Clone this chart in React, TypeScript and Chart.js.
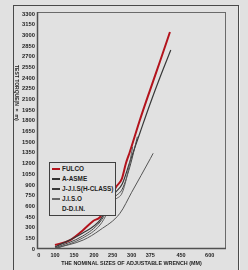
import { useEffect, useRef } from 'react';
import { Chart, registerables } from 'chart.js';

Chart.register(...registerables);

// ---- data ----
const seriesNames = ['FULCO', 'A-ASME', 'J-J.I.S(H-CLASS)', 'J.I.S.O', 'D-D.I.N.'];

const fulcoSize = [100, 140, 173, 198, 216, 260, 274, 285, 295, 333, 374, 399, 423];
const fulcoTorque = [56, 126, 267, 393, 449, 880, 985, 1207, 1362, 1811, 2232, 2640, 3047];

const asmeSize = [100, 172, 216, 256, 275, 295, 333, 374, 399, 425];
const asmeTorque = [28, 225, 407, 786, 913, 1221, 1629, 2036, 2415, 2794];

const jisSize = [100, 172, 216, 256, 275, 295, 323];
const jisTorque = [14, 183, 379, 730, 840, 1151, 1577];

const jisoSize = [100, 172, 216, 256, 275, 290, 304];
const jisoTorque = [0, 155, 337, 688, 790, 1081, 1436];

const dinSize = [100, 173, 216, 269, 300, 375, 382];
const dinTorque = [10, 126, 267, 501, 797, 1268, 1344];

const xTickValues = [0, 100, 150, 200, 250, 300, 375, 450, 600];
const xTickLabels = ['0', '100', '150', '200', '250', '300', '375', '450', '600'];
const yMin = 0;
const yMax = 3300;
const yStep = 150;

// ---- layout / style (not data) ----
// where each x tick sits along the drawn (non-uniform) axis, in axis units
const X_SPOTS = [1.7, 18, 37, 57, 75.7, 94.7, 113.3, 144, 172.7];
const X_SPAN = 189;
const FONT = "'Liberation Sans', Arial, sans-serif";
const INK = '#1e1e1e';
const BG = '#e1e1e1';

const STYLE = [
  { color: '#b3131c', width: 2, swatch: '#b3131c', swatchH: 2 },
  { color: '#383838', width: 1.2, swatch: '#333333', swatchH: 1.5 },
  { color: '#444444', width: 1, swatch: '#3a3a3a', swatchH: 1.5 },
  { color: '#5c5c5c', width: 1, swatch: '#666666', swatchH: 1.2 },
  { color: '#555555', width: 1, swatch: 'transparent', swatchH: 1 },
];

function toAxis(mm: number): number {
  for (let i = 0; i < xTickValues.length - 1; i++) {
    const a = xTickValues[i];
    const b = xTickValues[i + 1];
    if (mm <= b || i === xTickValues.length - 2) {
      const t = (mm - a) / (b - a);
      return X_SPOTS[i] + t * (X_SPOTS[i + 1] - X_SPOTS[i]);
    }
  }
  return 0;
}

const framePlugin = {
  id: 'plotFrame',
  afterDatasetsDraw(chart: any) {
    const { ctx, chartArea } = chart;
    const { left, top, right, bottom } = chartArea;
    ctx.save();
    ctx.strokeStyle = '#6a6a6a';
    ctx.lineWidth = 1;
    ctx.strokeRect(left + 0.5, top - 1.5, right - left - 1, bottom - top + 1);
    ctx.strokeStyle = '#505050';
    ctx.lineWidth = 1.5;
    ctx.beginPath();
    ctx.moveTo(left + 0.5, top - 2);
    ctx.lineTo(left + 0.5, bottom - 0.5);
    ctx.lineTo(right, bottom - 0.5);
    ctx.stroke();
    ctx.restore();
  },
};

export default function App() {
  const ref = useRef<HTMLCanvasElement>(null);

  useEffect(() => {
    const series = [
      { x: fulcoSize, y: fulcoTorque },
      { x: asmeSize, y: asmeTorque },
      { x: jisSize, y: jisTorque },
      { x: jisoSize, y: jisoTorque },
      { x: dinSize, y: dinTorque },
    ];
    const chart = new Chart(ref.current as HTMLCanvasElement, {
      type: 'line',
      data: {
        datasets: series.map((s, i) => ({
          label: seriesNames[i],
          data: s.x.map((v, j) => ({ x: toAxis(v), y: s.y[j] })),
          borderColor: STYLE[i].color,
          borderWidth: STYLE[i].width,
          pointRadius: 0,
          fill: false,
          cubicInterpolationMode: 'monotone' as const,
          order: 5 - i,
        })),
      },
      options: {
        animation: false,
        responsive: false,
        maintainAspectRatio: false,
        layout: { padding: { left: 14, right: 22, top: 14, bottom: 2 } },
        plugins: { legend: { display: false }, tooltip: { enabled: false } },
        scales: {
          x: {
            type: 'linear',
            min: 0,
            max: X_SPAN,
            afterBuildTicks: (s: any) => {
              s.ticks = X_SPOTS.map((v) => ({ value: v }));
            },
            afterFit: (s: any) => {
              s.height = 19;
            },
            grid: { display: false, drawTicks: false },
            border: { display: false },
            ticks: {
              autoSkip: false,
              maxRotation: 0,
              padding: 3,
              color: INK,
              font: { family: FONT, size: 5.5, weight: 'bold' },
              callback: (_v: any, i: number) => xTickLabels[i],
            },
            title: {
              display: true,
              text: 'THE NOMINAL SIZES OF ADJUSTABLE WRENCH (MM)',
              color: INK,
              font: { family: FONT, size: 5.4, weight: 'bold' },
              padding: { top: 0, bottom: 1 },
            },
          },
          y: {
            type: 'linear',
            min: yMin,
            max: yMax,
            afterFit: (s: any) => {
              s.width = 23;
            },
            grid: { display: false, drawTicks: false },
            border: { display: false },
            ticks: {
              stepSize: yStep,
              autoSkip: false,
              padding: 2,
              color: INK,
              font: { family: FONT, size: 5.8, weight: 'bold' },
              callback: (v: any) => String(v),
            },
          },
        },
      },
      plugins: [framePlugin],
    });
    return () => chart.destroy();
  }, []);

  return (
    <div
      style={{
        position: 'fixed',
        left: 0,
        top: 0,
        width: 248,
        height: 270,
        overflow: 'hidden',
        background: BG,
      }}
    >
      <div
        style={{
          position: 'absolute',
          left: 13,
          top: 5,
          width: 226,
          height: 290,
          boxSizing: 'border-box',
          border: '1px solid #4a4a4a',
          boxShadow: '1px 1px 0 #f2f2f2',
        }}
      />
      <canvas
        ref={ref}
        width={248}
        height={270}
        style={{ position: 'absolute', left: 0, top: 0, width: 248, height: 270 }}
      />
      <div
        style={{
          position: 'absolute',
          left: 14,
          top: 65,
          writingMode: 'vertical-rl',
          fontFamily: FONT,
          fontSize: 5,
          fontWeight: 'bold',
          lineHeight: '6px',
          color: INK,
          whiteSpace: 'nowrap',
        }}
      >
        TEST TORQUE(N × m)
      </div>
      <div
        style={{
          position: 'absolute',
          left: 49,
          top: 162,
          width: 67,
          height: 54,
          boxSizing: 'border-box',
          border: '1px solid #404040',
          background: BG,
          paddingTop: 1,
        }}
      >
        {seriesNames.map((name, i) => (
          <div
            key={name}
            style={{ position: 'relative', height: 10, display: 'flex', alignItems: 'center' }}
          >
            <span
              style={{
                display: 'inline-block',
                marginLeft: 2,
                width: 8,
                height: STYLE[i].swatchH,
                background: STYLE[i].swatch,
              }}
            />
            <span
              style={{
                marginLeft: 2,
                fontFamily: FONT,
                fontSize: 6.4,
                fontWeight: 'bold',
                color: INK,
                whiteSpace: 'nowrap',
                lineHeight: '10px',
              }}
            >
              {name}
            </span>
          </div>
        ))}
      </div>
    </div>
  );
}
